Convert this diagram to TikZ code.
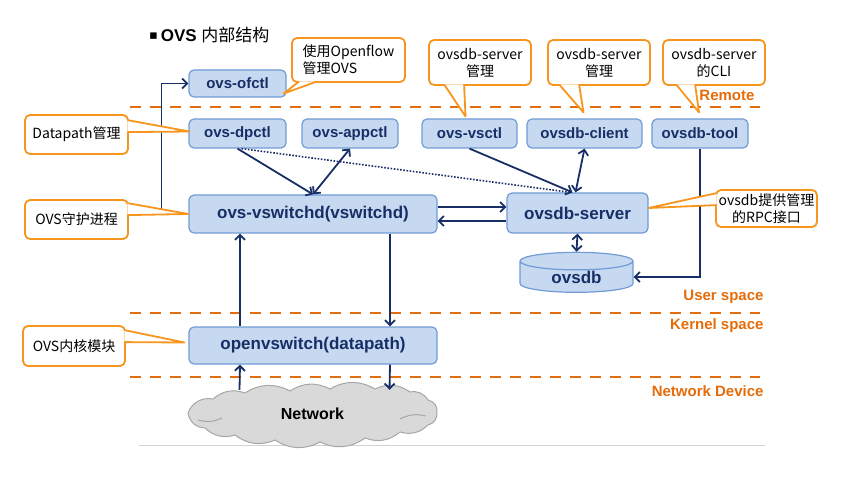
\documentclass[tikz,border=0pt]{standalone}
\usepackage{fontspec}
\setmainfont{Liberation Sans}
\newfontfamily\cjk{Noto Sans CJK SC}
\newfontfamily\symb{DejaVu Sans}
\usepackage{xcolor}
\usepackage{tikz}
\usetikzlibrary{shapes.geometric,arrows.meta,calc}

\definecolor{boxfill}{RGB}{198,217,241}
\definecolor{boxline}{RGB}{112,155,214}
\definecolor{navy}{RGB}{23,46,102}
\definecolor{layerorange}{RGB}{228,108,10}
\definecolor{noteorange}{RGB}{247,150,30}
\definecolor{cloudgray}{RGB}{217,217,217}

\tikzset{
	compbox/.style={draw=boxline, fill=boxfill, line width=1.2pt, rounded corners=5pt, text=navy, font=\bfseries\fontsize{15}{18}\selectfont, inner sep=0pt},
	bigbox/.style={compbox, font=\bfseries\fontsize{17}{20}\selectfont},
	callnote/.style={draw=noteorange, fill=white, line width=1.8pt, rounded corners=5pt, font=\cjk\fontsize{14}{17}\selectfont, align=center, inner sep=2pt},
	tail/.style={draw=noteorange, fill=white, line width=1.8pt, line join=round},
	flow/.style={draw=navy, line width=1.8pt},
	layer/.style={draw=layerorange, line width=2.4pt, dash pattern=on 11pt off 9pt},
	layertext/.style={text=layerorange, font=\bfseries\fontsize{15}{18}\selectfont, anchor=east},
}

\begin{document}
\begin{tikzpicture}[x=1pt, y=-1pt, >={Straight Barb[length=5pt,width=10pt]}]
				\useasboundingbox (0,0) rectangle (845,494);
	
				\draw[layer] (130,107) -- (760,107);
				\draw[layer] (130,313) -- (760,313);
				\draw[layer] (130,377) -- (760,377);
				\draw[gray!35, line width=1pt] (139,445) -- (765,445);
	
				\node[anchor=west, font=\fontsize{17}{20}\selectfont, inner sep=0pt] (title) at (149,35) {\raisebox{1.5pt}{\symb\fontsize{13}{13}\selectfont ▪}\,\textbf{OVS} {\cjk 内部结构}};
	
				\node[compbox, minimum width=97pt, minimum height=27pt] (ofctl) at (237.5,83.5) {ovs-ofctl};
				\node[compbox, minimum width=97pt, minimum height=29pt] (dpctl) at (237.5,133.5) {ovs-dpctl};
				\node[compbox, minimum width=96pt, minimum height=29pt] (appctl) at (350,133.5) {ovs-appctl};
				\node[compbox, minimum width=95pt, minimum height=29pt] (vsctl) at (469.5,133.5) {ovs-vsctl};
				\node[compbox, minimum width=115pt, minimum height=29pt] (client) at (584.5,133.5) {ovsdb-client};
				\node[compbox, minimum width=96pt, minimum height=29pt] (tool) at (700,133.5) {ovsdb-tool};
				\node[bigbox, minimum width=248pt, minimum height=38pt] (vswitchd) at (313,214) {ovs-vswitchd(vswitchd)};
				\node[bigbox, minimum width=141pt, minimum height=40pt] (server) at (577.5,213) {ovsdb-server};
				\node[bigbox, sharp corners, cylinder, shape border rotate=90, aspect=0.35, minimum width=113pt, minimum height=40pt] (ovsdb) at (576.5,277) {ovsdb};
				\node[bigbox, minimum width=248pt, minimum height=37pt] (datapath) at (313,345.5) {openvswitch(datapath)};
	
				\filldraw[draw=gray!70, fill=cloudgray, line width=1pt] (188,413) to[bend left=40] (213,399) to[bend left=30] (245,393) to[bend left=30] (290,391)
					to[bend left=30] (330,389) to[bend left=30] (375,389) to[bend left=30] (410,392) to[bend left=35] (428,400) to[bend left=45] (437,413)
					to[bend left=40] (428,425) to[bend left=30] (400,432) to[bend left=30] (365,438) to[bend left=30] (320,442) to[bend left=30] (275,440)
					to[bend left=30] (235,435) to[bend left=30] (205,428) to[bend left=40] cycle;
				\draw[gray!70, line width=1pt] (198,420) to[bend right=20] (222,418) (400,419) to[bend left=20] (426,416);
				\node[minimum width=249pt, minimum height=48pt, font=\bfseries\fontsize{16}{19}\selectfont, inner sep=0pt] (network) at (312.5,414) {Network};
	
				\draw[flow,->] (vswitchd.west) -- ++(-27,0) |- (ofctl.west);
				\draw[flow,->] (dpctl.south) -- (vswitchd.north);
				\draw[flow,<->] (appctl.south) -- (vswitchd.north);
				\draw[flow, line width=1.6pt, dash pattern=on 1.6pt off 1.6pt] ([xshift=4pt]dpctl.south) -- ([xshift=-7pt]server.north);
				\draw[flow,->] (vsctl.south) -- ([xshift=-5pt]server.north);
				\draw[flow,<->] (client.south) -- ([xshift=-2pt]server.north);
				\draw[flow,->] ([yshift=7pt]vswitchd.east) -- ([yshift=6pt]server.west);
				\draw[flow,->] ([yshift=-8pt]server.west) -- ([yshift=-7pt]vswitchd.east);
				\draw[flow,<->] (server.south) -- (ovsdb.north);
				\draw[flow,->] (tool.south) |- (ovsdb.east);
				\draw[flow,->] ([xshift=-73pt]datapath.north) -- ([xshift=-73pt]vswitchd.south);
				\draw[flow,->] ([xshift=77pt]vswitchd.south) -- ([xshift=77pt]datapath.north);
				\draw[flow,->] ([xshift=-73pt]network.north) -- ([xshift=-73pt]datapath.south);
				\draw[flow,->] ([xshift=77pt]datapath.south) -- ([xshift=77pt]network.north);
	
				\node[layertext] (remote) at (758,95) {Remote};
				\node[layertext] (user) at (767,297) {User space};
				\node[layertext] (kernel) at (767,326) {Kernel space};
				\node[layertext] (netdev) at (767,391) {Network Device};
	
				\node[callnote, align=left, minimum width=113pt, minimum height=44pt] (ofctlnote) at (348.5,60) {使用Openflow\\管理OVS};
				\node[callnote, minimum width=102pt, minimum height=45pt] (vsctlnote) at (480,62.5) {ovsdb-server\\管理};
				\node[callnote, minimum width=102pt, minimum height=45pt] (clientnote) at (599,62.5) {ovsdb-server\\管理};
				\node[callnote, minimum width=102pt, minimum height=45pt] (toolnote) at (714,62.5) {ovsdb-server\\的CLI};
				\node[callnote, minimum width=103pt, minimum height=39pt] (dpnote) at (76.5,134.5) {Datapath管理};
				\node[callnote, minimum width=103pt, minimum height=39pt] (vsnote) at (76.5,219.5) {OVS守护进程};
				\node[callnote, minimum width=102pt, minimum height=40pt] (kernnote) at (74,346) {OVS内核模块};
				\node[callnote, minimum width=101pt, minimum height=37pt] (rpcnote) at (766.5,208.5) {ovsdb提供管理\\的RPC接口};
	
				\filldraw[tail] ($(ofctlnote.south west)+(8,-1.5)$) -- ($(ofctl.south east)+(-3,-4)$) -- ($(ofctlnote.south west)+(26,-1.5)$);
				\filldraw[tail] ($(vsctlnote.south west)+(16,-1.5)$) -- ($(vsctl.north)+(-4,-2)$) -- ($(vsctlnote.south west)+(36,-1.5)$);
				\filldraw[tail] ($(clientnote.south west)+(12,-1.5)$) -- ($(client.north)+(-1,-6)$) -- ($(clientnote.south west)+(32,-1.5)$);
				\filldraw[tail] ($(toolnote.south west)+(14,-1.5)$) -- ($(tool.north)+(-1,-6)$) -- ($(toolnote.south west)+(33,-1.5)$);
				\filldraw[tail] ($(dpnote.north east)+(-1.5,6)$) -- ($(dpctl.west)+(1,-2)$) -- ($(dpnote.north east)+(-1.5,18)$);
				\filldraw[tail] ($(vsnote.north east)+(-1.5,4)$) -- (vswitchd.west) -- ($(vsnote.north east)+(-1.5,16)$);
				\filldraw[tail] ($(kernnote.north east)+(-1.5,5)$) -- ($(datapath.west)+(-4,-3)$) -- ($(kernnote.north east)+(-1.5,17)$);
				\filldraw[tail] ($(rpcnote.north west)+(1.5,4)$) -- ($(server.east)+(0,-5)$) -- ($(rpcnote.north west)+(1.5,16)$);
			\end{tikzpicture}
\end{document}
